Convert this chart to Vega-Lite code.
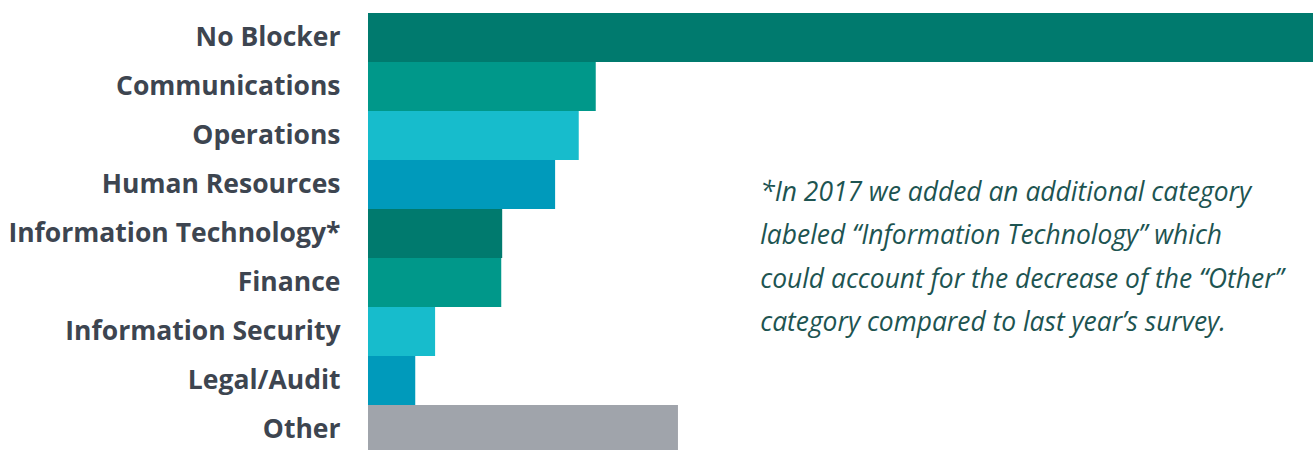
{
  "$schema": "https://vega.github.io/schema/vega-lite/v6.json",
  "width": 945,
  "height": 441,
  "autosize": {"type": "none"},
  "padding": {"left": 368, "top": 13, "right": 0, "bottom": 0},
  "background": "white",
  "config": {"view": {"stroke": null}},
  "layer": [
    {
      "data": {"values": [
        {"category": "No Blocker", "value": 100},
        {"category": "Communications", "value": 24.1},
        {"category": "Operations", "value": 22.3},
        {"category": "Human Resources", "value": 19.8},
        {"category": "Information Technology*", "value": 14.2},
        {"category": "Finance", "value": 14.1},
        {"category": "Information Security", "value": 7.1},
        {"category": "Legal/Audit", "value": 5.0},
        {"category": "Other", "value": 32.8}
      ]},
      "mark": {"type": "bar"},
      "encoding": {
        "y": {
          "field": "category", "type": "nominal", "sort": null,
          "scale": {"paddingInner": 0, "paddingOuter": 0},
          "axis": {
            "title": null, "domain": false, "ticks": false, "labelPadding": 28,
            "labelFont": "Open Sans", "labelFontWeight": "bold", "labelFontSize": 26.5,
            "labelColor": "#3d4550", "labelLimit": 400, "labelOffset": 0.5
          }
        },
        "x": {
          "field": "value", "type": "quantitative",
          "scale": {"domain": [0, 100], "nice": false},
          "axis": null
        },
        "color": {
          "field": "category", "type": "nominal", "legend": null,
          "scale": {
            "domain": ["No Blocker", "Communications", "Operations", "Human Resources", "Information Technology*", "Finance", "Information Security", "Legal/Audit", "Other"],
            "range": ["#007a6e", "#00988a", "#17bccc", "#009abb", "#007a6e", "#00988a", "#17bccc", "#009abb", "#a0a4ab"]
          }
        }
      }
    },
    {
      "data": {"values": [
        {"category": "Information Technology*", "x": 41.5, "note": ["*In 2017 we added an additional category", "labeled \u201cInformation Technology\u201d which", "could account for the decrease of the \u201cOther\u201d", "category compared to last year\u2019s survey."]}
      ]},
      "mark": {
        "type": "text", "align": "left", "baseline": "middle", "dy": -40.5,
        "font": "Open Sans", "fontStyle": "italic", "fontSize": 26.4,
        "lineHeight": 43.4, "color": "#1d5451"
      },
      "encoding": {
        "y": {"field": "category", "type": "nominal", "sort": null},
        "x": {"field": "x", "type": "quantitative"},
        "text": {"field": "note"}
      }
    }
  ]
}
